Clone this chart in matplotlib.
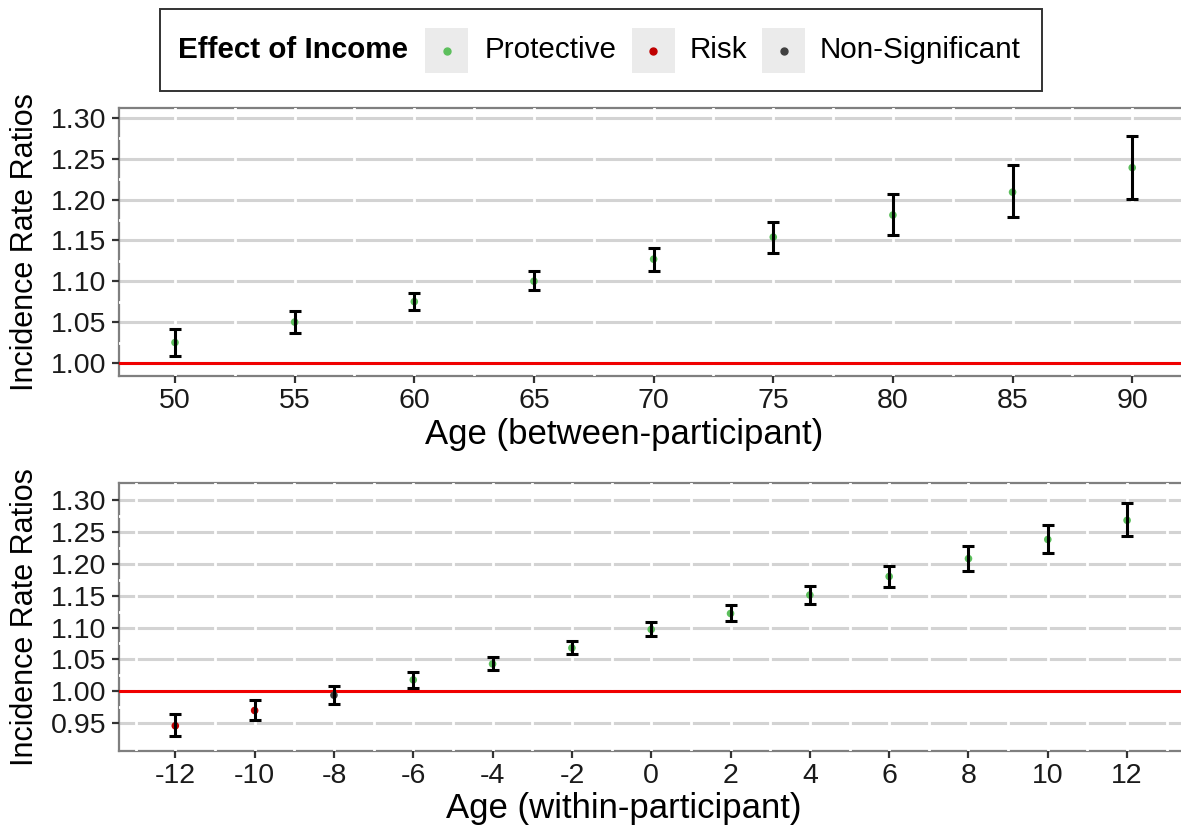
import matplotlib
matplotlib.use("Agg")
import matplotlib.pyplot as plt
from matplotlib.lines import Line2D
from matplotlib.patches import Rectangle

plt.rcParams["font.family"] = ["Liberation Sans", "DejaVu Sans"]

# between-participant panel
age_between = [50, 55, 60, 65, 70, 75, 80, 85, 90]
irr_between = [1.025, 1.050, 1.075, 1.100, 1.127, 1.154, 1.181, 1.209, 1.239]
low_between = [1.009, 1.037, 1.065, 1.089, 1.113, 1.135, 1.157, 1.179, 1.201]
high_between = [1.042, 1.063, 1.086, 1.112, 1.141, 1.173, 1.207, 1.242, 1.278]
eff_between = ["Protective"] * 9

# within-participant panel
age_within = [-12, -10, -8, -6, -4, -2, 0, 2, 4, 6, 8, 10, 12]
irr_within = [0.946, 0.970, 0.994, 1.018, 1.043, 1.068, 1.097, 1.122, 1.151, 1.180, 1.208, 1.238, 1.268]
low_within = [0.930, 0.955, 0.980, 1.005, 1.033, 1.059, 1.087, 1.111, 1.137, 1.163, 1.189, 1.217, 1.244]
high_within = [0.964, 0.986, 1.008, 1.031, 1.054, 1.079, 1.108, 1.135, 1.165, 1.196, 1.227, 1.260, 1.295]
eff_within = ["Risk", "Risk", "Non-Significant"] + ["Protective"] * 10

effect_levels = ["Protective", "Risk", "Non-Significant"]
effect_colors = {"Protective": "#5cbf5c", "Risk": "#c00000", "Non-Significant": "#404040"}

W, H = 1181, 833
fig = plt.figure(figsize=(W / 100, H / 100), dpi=100)


def px_axes(x0, y0, x1, y1):
    return fig.add_axes([x0 / W, 1 - y1 / H, (x1 - x0) / W, (y1 - y0) / H])


def draw_panel(ax, x, y, lo, hi, eff, xlim, ylim, xticks, xminor, yticks, xlabel):
    ax.set_xlim(*xlim)
    ax.set_ylim(*ylim)
    # horizontal grey grid
    for v in yticks:
        ax.axhline(v, color="#d3d3d3", lw=2.2, zorder=0.8)
    # white vertical lines at major + minor x positions
    for v in list(xticks) + list(xminor):
        ax.axvline(v, color="white", lw=2.0, zorder=1.5)
    for a, b in zip(yticks[:-1], yticks[1:]):
        ax.axhline((a + b) / 2, color="white", lw=2.0, zorder=1.5)
    for s in ax.spines.values():
        s.set_color("#7f7f7f")
        s.set_linewidth(1.6)
        s.set_zorder(1.0)
    ax.axhline(1.0, color="#f00000", lw=2.2, zorder=2)
    cols = [effect_colors[e] for e in eff]
    ax.scatter(x, y, s=30, c=cols, zorder=3, linewidths=0)
    yerr = [[yy - l for yy, l in zip(y, lo)], [h - yy for yy, h in zip(y, hi)]]
    ax.errorbar(x, y, yerr=yerr, fmt="none", ecolor="black", elinewidth=2.2,
                capsize=4, capthick=2.2, zorder=4)
    ax.set_xticks(xticks)
    ax.set_xticklabels([str(t) for t in xticks])
    ax.set_yticks(yticks)
    ax.set_yticklabels([f"{t:.2f}" for t in yticks])
    ax.tick_params(axis="both", labelsize=20.5, length=5, width=1.6, color="#333333",
                   labelcolor="#1a1a1a", pad=4)
    ax.set_xlabel(xlabel, fontsize=25)
    ax.set_ylabel("Incidence Rate Ratios", fontsize=22)
    # label centred under the visible part of the panel
    ax.xaxis.set_label_coords(0.463, -0.155)
    ax.yaxis.set_label_coords(-0.072, 0.5)


ax1 = px_axes(119, 108, 1210, 376)
draw_panel(ax1, age_between, irr_between, low_between, high_between, eff_between,
           (47.66, 93.25), (0.984, 1.312), [50, 55, 60, 65, 70, 75, 80, 85, 90],
           [47.5, 52.5, 57.5, 62.5, 67.5, 72.5, 77.5, 82.5, 87.5, 92.5],
           [1.00, 1.05, 1.10, 1.15, 1.20, 1.25, 1.30], "Age (between-participant)")

ax2 = px_axes(119, 483.3, 1210, 750.7)
draw_panel(ax2, age_within, irr_within, low_within, high_within, eff_within,
           (-13.42, 14.09), (0.907, 1.326), list(range(-12, 13, 2)),
           list(range(-13, 14, 2)),
           [0.95, 1.00, 1.05, 1.10, 1.15, 1.20, 1.25, 1.30], "Age (within-participant)")


# legend drawn by hand (title on the left, keys in a row)
def fx(px):
    return px / W


def fy(py):
    return 1 - py / H


fig.add_artist(Rectangle((fx(160), fy(90.7)), fx(1042) - fx(160), fy(9.3) - fy(90.7),
                         transform=fig.transFigure, fill=False, edgecolor="#333333", lw=1.4))
fig.text(fx(178), fy(50), "Effect of Income", fontsize=21.3, fontweight="bold",
         ha="left", va="center")
key_left = [425, 632, 762]
text_left = [485, 690, 820]
for lvl, kx, tx in zip(effect_levels, key_left, text_left):
    fig.add_artist(Rectangle((fx(kx), fy(73)), fx(43), 45 / H, transform=fig.transFigure,
                             facecolor="#ebebeb", edgecolor="none"))
    fig.add_artist(Line2D([fx(kx + 21.5)], [fy(50.5)], marker="o", markersize=5,
                          color=effect_colors[lvl], linestyle="none",
                          transform=fig.transFigure))
    fig.text(fx(tx), fy(50), lvl, fontsize=21.3, ha="left", va="center")

fig.savefig("out.png", dpi=100)
